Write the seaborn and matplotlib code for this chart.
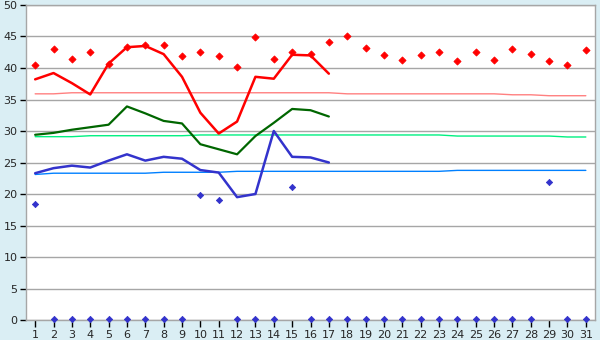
import numpy as np
import pandas as pd
import matplotlib
matplotlib.use("Agg")
import matplotlib.pyplot as plt
import seaborn as sns

# ---- data ----
days = list(range(1, 32))
days_line = list(range(1, 18))

red_line = [38.2, 39.2, 37.6, 35.8, 40.7, 43.3, 43.5, 42.2, 38.6, 32.9,
            29.6, 31.5, 38.6, 38.3, 42.1, 42.0, 39.1]
green_line = [29.4, 29.7, 30.2, 30.6, 31.0, 33.9, 32.8, 31.6, 31.2, 27.9,
              27.1, 26.3, 29.2, 31.3, 33.5, 33.3, 32.3]
blue_line = [23.3, 24.1, 24.5, 24.2, 25.3, 26.3, 25.3, 25.9, 25.6, 23.8,
             23.4, 19.5, 20.0, 30.0, 25.9, 25.8, 25.0]

red_pts = [40.4, 43.0, 41.5, 42.6, 40.7, 43.3, 43.7, 43.6, 41.9, 42.5,
           41.9, 40.1, 44.9, 41.5, 42.6, 42.2, 44.1, 45.1, 43.1, 42.0,
           41.2, 42.0, 42.6, 41.1, 42.5, 41.2, 43.0, 42.2, 41.1, 40.4, 42.8]
blue_pts = [18.4, 0.2, 0.2, 0.2, 0.2, 0.1, 0.2, 0.2, 0.2, 19.8,
            19.0, 0.2, 0.2, 0.2, 21.1, 0.2, 0.2, 0.2, 0.2, 0.2,
            0.2, 0.2, 0.2, 0.2, 0.2, 0.2, 0.2, 0.2, 21.9, 0.2, 0.2]

red_avg = [35.9, 35.9] + [36.07] * 15 + [35.9] * 9 + [35.75] * 2 + [35.6] * 3
green_avg = [29.1] * 3 + [29.25] * 6 + [29.37] * 14 + [29.2] * 6 + [29.05] * 2
blue_avg = [23.1] + [23.3] * 6 + [23.45] * 4 + [23.6] * 12 + [23.75] * 8

y_ticks = list(range(0, 51, 5))

# ---- frames for seaborn ----
lines = pd.DataFrame({"day": days_line, "red": red_line,
                      "green": green_line, "blue": blue_line})
avgs = pd.DataFrame({"day": days, "red": red_avg,
                     "green": green_avg, "blue": blue_avg})
pts = pd.DataFrame({"day": days, "red": red_pts, "blue": blue_pts})

sns.set_style("white")
plt.rcParams['font.family'] = ['DejaVu Sans']

bg = "#DAEEF4"
grid = "#A6A6A6"

fig, ax = plt.subplots(figsize=(6.0, 3.4), dpi=100)
fig.patch.set_facecolor(bg)
fig.subplots_adjust(left=0.0433, right=0.9917, top=0.9853, bottom=0.0588)
ax.set_facecolor("white")

# pale reference lines
sns.lineplot(data=avgs, x="day", y="red", ax=ax, color="#FF8080", linewidth=1.0)
sns.lineplot(data=avgs, x="day", y="green", ax=ax, color="#00F080", linewidth=1.0)
sns.lineplot(data=avgs, x="day", y="blue", ax=ax, color="#0080FF", linewidth=1.0)

# main lines
sns.lineplot(data=lines, x="day", y="red", ax=ax, color="#FF0000", linewidth=1.8)
sns.lineplot(data=lines, x="day", y="green", ax=ax, color="#006600", linewidth=1.6)
sns.lineplot(data=lines, x="day", y="blue", ax=ax, color="#3333CC", linewidth=1.8)

# markers
sns.scatterplot(data=pts, x="day", y="red", ax=ax, color="#FF0000", marker="D",
                s=13, linewidth=0.6, edgecolor="#FF0000", clip_on=False, zorder=5)
sns.scatterplot(data=pts, x="day", y="blue", ax=ax, color="#3333CC", marker="D",
                s=10, linewidth=0.6, edgecolor="#3333CC", clip_on=False, zorder=5)

ax.set_xlim(0.5, 31.5)
ax.set_ylim(0, 50)
ax.set_xticks(days)
ax.set_xticklabels([str(d) for d in days])
ax.set_yticks(y_ticks)
ax.set_xlabel("")
ax.set_ylabel("")

ax.grid(axis="y", color=grid, linewidth=1)
ax.set_axisbelow(True)
for s in ax.spines.values():
    s.set_color(grid)
    s.set_linewidth(1)

ax.tick_params(axis="x", direction="out", length=5, width=1, color="black",
               labelsize=8, pad=2, bottom=True)
ax.tick_params(axis="y", direction="out", length=4, width=1, color="black",
               labelsize=8, pad=2, left=True)

fig.savefig("out.png", dpi=100, facecolor=bg)
